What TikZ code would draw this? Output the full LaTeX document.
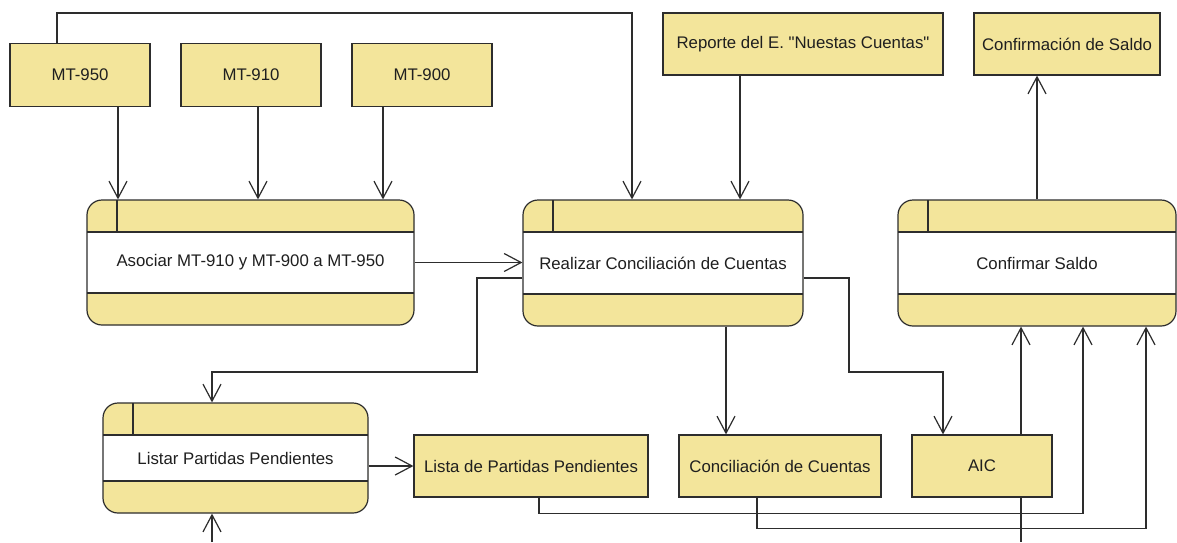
\documentclass[tikz,border=0pt]{standalone}
\usepackage{fontspec}
\setmainfont{Liberation Sans}[Ligatures=TeXOff]
\usetikzlibrary{arrows.meta,calc}
\definecolor{boxfill}{RGB}{243,229,155}
\definecolor{ink}{RGB}{45,45,45}
\tikzset{
  lnk/.style={draw=ink, line width=1.2pt},
  arr/.style={lnk, -{Straight Barb[length=17pt,width=18pt,line width=1.2pt]}},
  databox/.style={draw=ink, line width=1.2pt, fill=boxfill, rectangle, inner sep=0pt,
    font=\fontsize{16.8}{19}\selectfont, text=black!88},
  procbox/.style={databox, rounded corners=15pt, path picture={
    \fill[white, sharp corners] ([yshift=-32pt]path picture bounding box.north west) rectangle ([yshift=32pt]path picture bounding box.south east);
    \draw[ink, line width=1.2pt, sharp corners] ([yshift=-32pt]path picture bounding box.north west) -- ([yshift=-32pt]path picture bounding box.north east);
    \draw[ink, line width=1.2pt, sharp corners] ([yshift=32pt]path picture bounding box.south west) -- ([yshift=32pt]path picture bounding box.south east);
    \draw[ink, line width=1.2pt, sharp corners] ([xshift=30pt]path picture bounding box.north west) -- ([xshift=30pt,yshift=-32pt]path picture bounding box.north west);
  }}
}
\begin{document}
\begin{tikzpicture}[x=1pt,y=-1pt]
\useasboundingbox[fill=white] (0,0) rectangle (1177,542);

% data boxes
\node[databox, minimum width=140pt, minimum height=63pt] (m950) at (80,75) {MT-950};
\node[databox, minimum width=140pt, minimum height=63pt] (m910) at (251,75) {MT-910};
\node[databox, minimum width=140pt, minimum height=63pt] (m900) at (422,75) {MT-900};
\node[databox, minimum width=280pt, minimum height=62pt] (rep) at (803,44) {Reporte del E. "Nuestas Cuentas"};
\node[databox, minimum width=186pt, minimum height=62pt] (csaldo) at (1067,44) {Confirmación de Saldo};
\node[databox, minimum width=234pt, minimum height=62pt] (lista) at (531,466) {Lista de Partidas Pendientes};
\node[databox, minimum width=202pt, minimum height=62pt] (conc) at (780,466) {Conciliación de Cuentas};
\node[databox, minimum width=140pt, minimum height=62pt] (aic) at (982,466) {AIC};

% processes
\node[procbox, minimum width=327pt, minimum height=125pt] (asoc) at (250.5,262.5) {Asociar MT-910 y MT-900 a MT-950};
\node[procbox, minimum width=280pt, minimum height=126pt] (real) at (663,263) {Realizar Conciliación de Cuentas};
\node[procbox, minimum width=278pt, minimum height=126pt] (conf) at (1037,263) {Confirmar Saldo};
\node[procbox, minimum width=265pt, minimum height=110pt] (listar) at (235.5,458) {Listar Partidas Pendientes};

\coordinate (aicend) at (1021,542);
\coordinate (lpstart) at (212,542);

% connectors
\draw[arr] ([xshift=38pt]m950.south) -- ([xshift=38pt]m950.south |- asoc.north);
\draw[arr] ([xshift=7pt]m910.south) -- ([xshift=7pt]m910.south |- asoc.north);
\draw[arr] ([xshift=-39pt]m900.south) -- ([xshift=-39pt]m900.south |- asoc.north);
\draw[arr] ([xshift=-23pt]m950.north) -- ++(0,-30) -| ([xshift=-31pt]real.north);
\draw[arr] ([xshift=-63pt]rep.south) -- ([xshift=-63pt]rep.south |- real.north);
\draw[arr] (asoc.east) -- (asoc.east -| real.west);
\draw[arr] ([yshift=-15pt]real.west) -| (477,372) -| ([xshift=-23.5pt]listar.north);
\draw[arr] ([yshift=-15pt]real.east) -| (849,372) -| ([xshift=-39pt]aic.north);
\draw[arr] ([xshift=63pt]real.south) -- ([xshift=63pt]real.south |- conc.north);
\draw[arr] (conf.north) -- (conf.north |- csaldo.south);
\draw[arr] (lista.west -| listar.east) -- (lista.west);
\draw[arr] ([xshift=8pt]lista.south) -- ++(0,16) -| ([xshift=46pt]conf.south);
\draw[arr] ([xshift=-23pt]conc.south) -- ++(0,31) -| ([xshift=109pt]conf.south);
\draw[arr] ([xshift=39pt]aic.north) -- ([xshift=39pt]aic.north |- conf.south);
\draw[lnk] ([xshift=39pt]aic.south) -- (aicend);
\draw[arr] (lpstart) -- ([xshift=-23.5pt]listar.south);
\end{tikzpicture}
\end{document}
